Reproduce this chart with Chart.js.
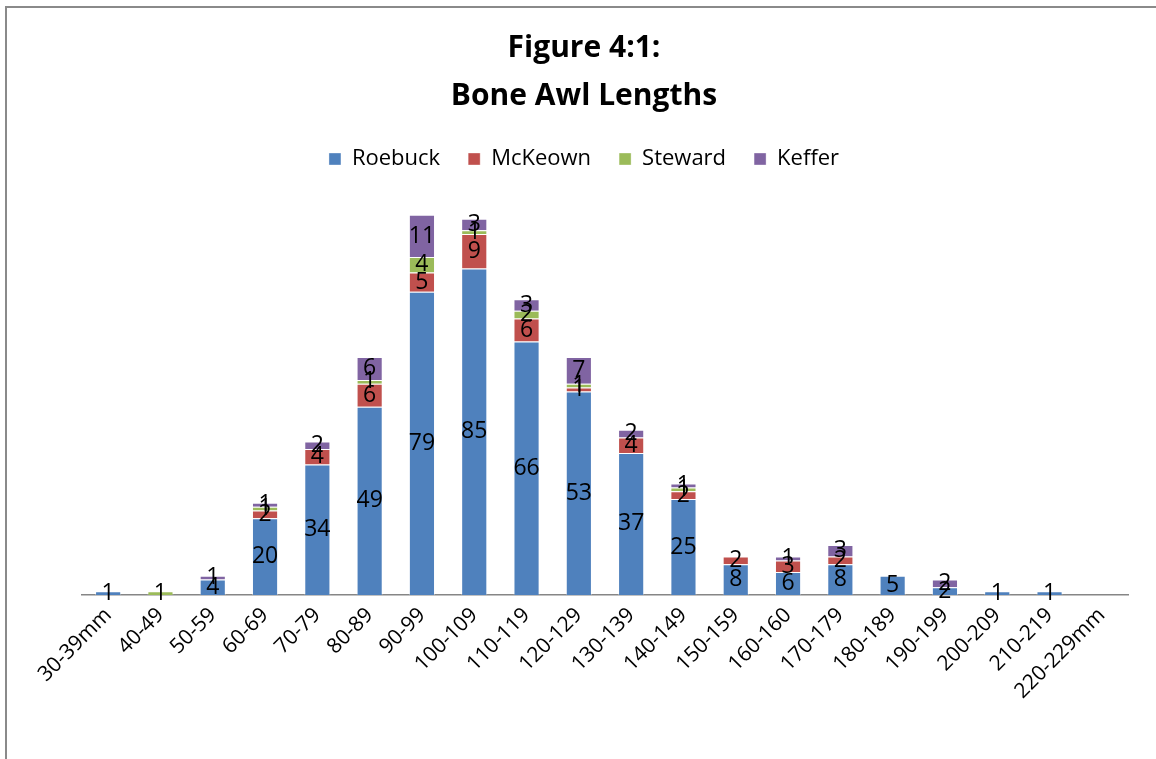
<!DOCTYPE html>
<html>
<head>
<meta charset="utf-8">
<title>Bone Awl Lengths</title>
<script src="https://cdn.jsdelivr.net/npm/chart.js@4.4.1/dist/chart.umd.min.js"></script>
<style>
  html, body { margin: 0; padding: 0; background: #fff; }
  #wrap { position: relative; width: 1156px; height: 759px; overflow: hidden; }
  #frame { position: absolute; left: 5px; top: 6px; right: -10px; bottom: -10px;
           border-left: 2px solid #8a8a8a; border-top: 2px solid #8a8a8a; }
  canvas { position: absolute; left: 0; top: 0; }
</style>
</head>
<body>
<div id="wrap">
  <div id="frame"></div>
  <canvas id="chart" width="1156" height="759"></canvas>
</div>
<script>
// Length classes (mm)
const categories = ["30-39mm", "40-49", "50-59", "60-69", "70-79", "80-89", "90-99",
  "100-109", "110-119", "120-129", "130-139", "140-149", "150-159", "160-160",
  "170-179", "180-189", "190-199", "200-209", "210-219", "220-229mm"];

// Awl counts per site
const roebuck = [1, 0, 4, 20, 34, 49, 79, 85, 66, 53, 37, 25, 8, 6, 8, 5, 2, 1, 1, 0];
const mckeown = [0, 0, 0, 2, 4, 6, 5, 9, 6, 1, 4, 2, 2, 3, 2, 0, 0, 0, 0, 0];
const steward = [0, 1, 0, 1, 0, 1, 4, 1, 2, 1, 0, 1, 0, 0, 0, 0, 0, 0, 0, 0];
const keffer  = [0, 0, 1, 1, 2, 6, 11, 3, 3, 7, 2, 1, 0, 1, 3, 0, 2, 0, 0, 0];

const FONT = "'Open Sans', 'Liberation Sans', sans-serif";

// Writes each non-zero segment's count in the middle of its segment
const segmentLabels = {
  id: 'segmentLabels',
  afterDatasetsDraw(chart) {
    const ctx = chart.ctx;
    ctx.save();
    ctx.font = "23px " + FONT;
    ctx.fillStyle = '#000';
    ctx.textAlign = 'center';
    ctx.textBaseline = 'middle';
    chart.data.datasets.forEach((ds, i) => {
      const meta = chart.getDatasetMeta(i);
      meta.data.forEach((bar, j) => {
        const v = ds.data[j];
        if (!v) return;
        ctx.fillText(String(v), bar.x, (bar.y + bar.base) / 2);
      });
    });
    ctx.restore();
  }
};

// Leaves extra room between the legend and the plot
const legendGap = {
  id: 'legendGap',
  afterInit(chart) {
    const lg = chart.legend;
    if (!lg) return;
    const fit = lg.fit;
    lg.fit = function () { fit.call(this); this.height += 31; };
  }
};

const mk = (label, data, color) => ({
  label, data, backgroundColor: color, borderColor: 'rgba(255,255,255,0.35)',
  borderWidth: 1, categoryPercentage: 1, barPercentage: 0.5, stack: 's'
});

new Chart(document.getElementById('chart'), {
  type: 'bar',
  data: {
    labels: categories,
    datasets: [
      mk('Roebuck', roebuck, '#4F81BD'),
      mk('McKeown', mckeown, '#C0504D'),
      mk('Steward', steward, '#9BBB59'),
      mk('Keffer', keffer, '#8064A2')
    ]
  },
  plugins: [segmentLabels, legendGap],
  options: {
    responsive: false,
    animation: false,
    layout: { padding: { left: 40, right: 28, top: 18, bottom: 47 } },
    plugins: {
      tooltip: { enabled: false },
      title: {
        display: true,
        text: ['Figure 4:1:', 'Bone Awl Lengths'],
        color: '#000',
        font: { family: FONT, size: 30, weight: 'bold', lineHeight: 1.6 },
        padding: { top: 6, bottom: 0 }
      },
      legend: {
        position: 'top',
        labels: {
          color: '#000',
          font: { family: FONT, size: 22 },
          boxWidth: 12, boxHeight: 12, padding: 28
        }
      }
    },
    scales: {
      x: {
        stacked: true,
        grid: { display: false, drawTicks: false },
        border: { display: true, color: '#868686', width: 1.5 },
        ticks: {
          color: '#000', font: { family: FONT, size: 21 },
          minRotation: 45, maxRotation: 45, autoSkip: false, padding: 8
        }
      },
      y: {
        stacked: true, display: true, min: 0, max: 100,
        grid: { display: false },
        border: { display: false },
        ticks: { display: false },
        afterFit(scale) { scale.width = 42; }
      }
    }
  }
});
</script>
</body>
</html>
